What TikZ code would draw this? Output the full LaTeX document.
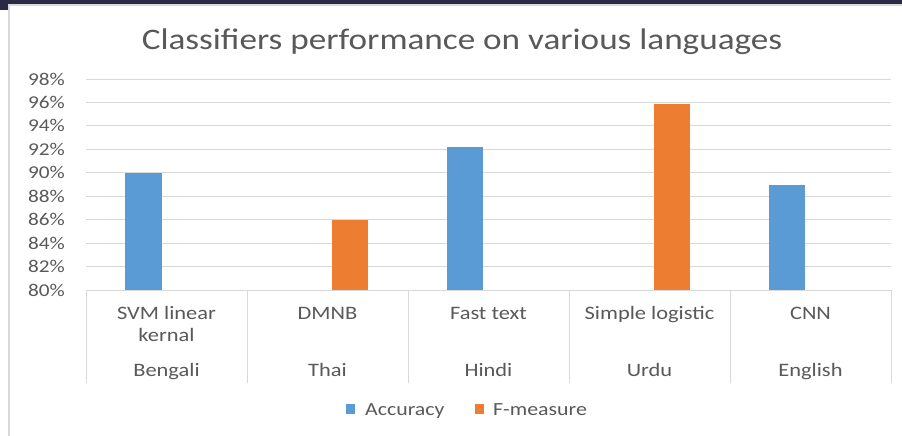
\documentclass[tikz,border=0pt]{standalone}
\usepackage{fontspec}
\setmainfont{Carlito}[FakeStretch=1.18]
\definecolor{txt}{HTML}{595959}
\definecolor{grid}{HTML}{D9D9D9}
\definecolor{acc}{HTML}{5B9BD5}
\definecolor{fm}{HTML}{ED7D31}
\definecolor{band}{HTML}{2B2A45}
\tikzset{
  gridline/.style={draw=grid, line width=1pt},
  ylab/.style={anchor=base east, text=txt, font=\fontsize{18}{20}\selectfont, inner sep=0pt},
  catlab/.style={anchor=base, text=txt, font=\fontsize{19}{22}\selectfont, inner sep=0pt},
  titlelab/.style={anchor=base, text=txt, font=\fontsize{29.8}{32}\selectfont, inner sep=0pt},
  leglab/.style={anchor=base west, text=txt, font=\fontsize{18.5}{20}\selectfont, inner sep=0pt},
}
\begin{document}
\begin{tikzpicture}[x=1pt,y=-1pt]
\useasboundingbox (0,0) rectangle (902,436);
\fill[white] (0,0) rectangle (902,436);
% top band and frame
\fill[band] (0,0) rectangle (902,4);
\fill[band] (0,0) rectangle (8,10);
\draw[grid, line width=2pt] (9,437) -- (9,5) -- (903,5);
% title
\node[titlelab] (title) at (462,50) {Classifiers performance on various languages};
% gridlines and y labels
\foreach \v in {82,84,...,98} {
  \draw[gridline] (86,{290-(\v-80)*11.72}) -- (891,{290-(\v-80)*11.72});
}
\foreach \v in {80,82,...,98} {
  \node[ylab] (y\v) at (65,{290-(\v-80)*11.72+6}) {\v\%};
}
% bars
\fill[acc] (125,290) rectangle (161.5,{290-(90-80)*11.72});
\fill[fm]  (331.5,290) rectangle (367.5,{290-(86-80)*11.72});
\fill[acc] (447,290) rectangle (483,{290-(92.2-80)*11.72});
\fill[fm]  (654,290) rectangle (690,{290-(95.9-80)*11.72});
\fill[acc] (769,290) rectangle (805,{290-(89-80)*11.72});
% axis table
\draw[gridline] (86,290) -- (891,290);
\foreach \x in {86,247,408,569,730,891} {
  \draw[gridline] (\x,290) -- (\x,383);
}
% category labels
\node[catlab] (c1a) at (166.5,319) {SVM linear};
\node[catlab] (c1b) at (166.5,341.5) {kernal};
\node[catlab] (c2a) at (327.5,319) {DMNB};
\node[catlab] (c3a) at (488.5,319) {Fast text};
\node[catlab] (c4a) at (649.5,319) {Simple logistic};
\node[catlab] (c5a) at (810.5,319) {CNN};
\node[catlab] (l1) at (166.5,376.5) {Bengali};
\node[catlab] (l2) at (327.5,376.5) {Thai};
\node[catlab] (l3) at (488.5,376.5) {Hindi};
\node[catlab] (l4) at (649.5,376.5) {Urdu};
\node[catlab] (l5) at (810.5,376.5) {English};
% legend
\fill[acc] (346,403.5) rectangle (355,414);
\node[leglab] (la) at (365,415) {Accuracy};
\fill[fm] (475,403.5) rectangle (484,414);
\node[leglab] (lf) at (493,415) {F-measure};
\end{tikzpicture}
\end{document}
